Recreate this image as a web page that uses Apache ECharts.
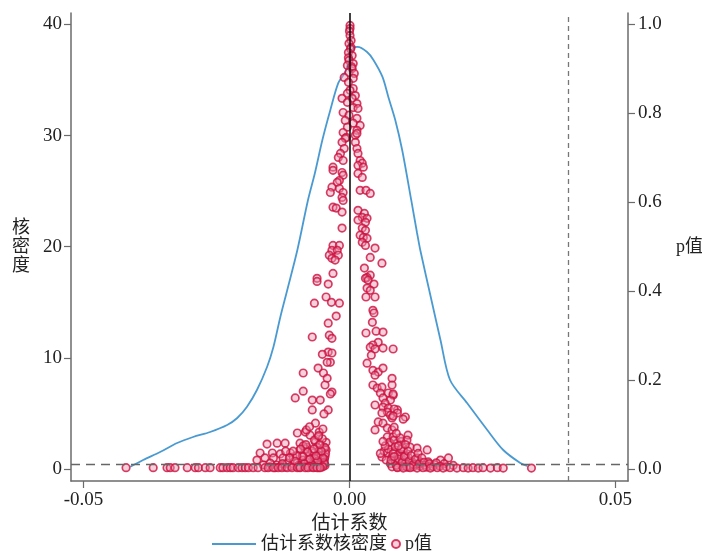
<!DOCTYPE html>
<html><head><meta charset="utf-8">
<script src="https://cdn.jsdelivr.net/npm/echarts@6/dist/echarts.min.js"></script>
<style>html,body{margin:0;padding:0;background:#fff}#c{width:702px;height:551px}</style>
</head><body><div id="c"></div>
<script>
// ---- data ----
const xTicks = [-0.05, 0, 0.05];
const densityTicks = [0, 10, 20, 30, 40];
const pTicks = [0, 0.2, 0.4, 0.6, 0.8, 1.0];
const refLinesX = [0, 0.0412];   // solid line at 0, dashed line at right
const refLineP = 0.01;           // horizontal dashed p threshold

// kernel density of estimated coefficients [coef, density]
const densityCurve = [
[-0.0412,0.2],[-0.0388,0.81],[-0.0356,1.53],[-0.0324,2.34],[-0.0294,2.88],[-0.0262,3.33],
[-0.0230,3.96],[-0.0211,4.59],[-0.0193,5.58],[-0.0174,7.11],[-0.0155,9.18],[-0.0143,10.98],
[-0.0130,13.68],[-0.0117,16.11],[-0.0098,19.71],[-0.0078,24.21],[-0.0065,26.64],[-0.0051,29.61],
[-0.0036,32.31],[-0.0021,34.74],[-0.0008,35.73],[0.0007,37.89],[0.0015,37.98],[0.0033,37.53],
[0.0045,36.81],[0.0062,35.28],[0.0073,33.48],[0.0086,31.41],[0.0099,28.71],[0.0116,24.21],
[0.0127,21.24],[0.0133,19.71],[0.0154,15.21],[0.0171,11.61],[0.0189,8.01],[0.0221,5.94],
[0.0259,3.51],[0.0289,1.71],[0.0321,0.54],[0.0334,0.27]
];

// p values of estimates [coef, p]
const pTop = [
[0.0001,0.998],[0.0001,0.991],[0.0000,0.985],[0.0001,0.975],[0.0003,0.964],[-0.0001,0.957],[0.0003,0.948],
[0.0002,0.945],[-0.0002,0.937],[0.0005,0.930],[-0.0002,0.925],[-0.0001,0.919],[0.0007,0.912],[-0.0004,0.908],
[0.0004,0.905],[0.0005,0.901],[-0.0001,0.892],[0.0009,0.890],[-0.0010,0.881],[0.0007,0.879],[-0.0002,0.870],
[0.0007,0.856],[0.0001,0.852],[-0.0004,0.845],[0.0011,0.840],[0.0005,0.834],[-0.0014,0.834],[-0.0004,0.825],
[0.0014,0.822],[0.0007,0.813],[0.0016,0.811],[-0.0012,0.802],[-0.0001,0.796],[0.0014,0.789],[-0.0008,0.784],
[0.0007,0.778],[0.0020,0.773],[-0.0004,0.769],[-0.0012,0.757],[0.0014,0.762],[-0.0006,0.746],[0.0011,0.751]
];
const pMidLeft = [
[-0.0008,0.744],[-0.0014,0.735],[-0.0010,0.721],[-0.0017,0.710],[-0.0021,0.701],[-0.0012,0.694],[-0.0031,0.679],
[-0.0031,0.672],[-0.0014,0.667],[-0.0012,0.661],[-0.0019,0.649],[-0.0023,0.645],[-0.0033,0.634],[-0.0019,0.631],
[-0.0036,0.622],[-0.0012,0.622],[-0.0014,0.611],[-0.0012,0.604],[-0.0031,0.589],[-0.0025,0.587],[-0.0014,0.578],
[-0.0014,0.542],[-0.0031,0.503],[-0.0019,0.503],[-0.0033,0.492],[-0.0023,0.492],[-0.0038,0.481],[-0.0021,0.481],
[-0.0033,0.474],[-0.0027,0.470],[-0.0031,0.440],[-0.0061,0.429],
[-0.0061,0.422],[-0.0040,0.416],[-0.0044,0.387],[-0.0034,0.375],[-0.0019,0.373],[-0.0066,0.373],[-0.0025,0.344],
[-0.0040,0.328],[-0.0038,0.301],[-0.0033,0.294],[-0.0070,0.297],[-0.0040,0.263],[-0.0033,0.261],[-0.0051,0.258],
[-0.0036,0.240],[-0.0042,0.240],[-0.0059,0.227],[-0.0049,0.216],[-0.0042,0.204],[-0.0087,0.216],[-0.0046,0.189],
[-0.0033,0.173],[-0.0036,0.169],[-0.0087,0.175],[-0.0102,0.160],[-0.0070,0.155],[-0.0055,0.155],[-0.0070,0.133],
[-0.0040,0.133],[-0.0048,0.124],[-0.0064,0.103],[-0.0083,0.083],[-0.0057,0.083],[-0.0098,0.081],[-0.0074,0.076],
[-0.0059,0.072],[-0.0081,0.088]
];
const pMidRight = [
[0.0014,0.755],[0.0011,0.735],[0.0014,0.721],[0.0016,0.710],[0.0020,0.694],[0.0024,0.688],[0.0016,0.683],
[0.0026,0.679],[0.0016,0.665],[0.0024,0.656],[0.0020,0.627],[0.0031,0.627],[0.0039,0.620],[0.0016,0.582],
[0.0028,0.575],[0.0024,0.566],[0.0033,0.564],[0.0016,0.560],[0.0030,0.555],[0.0024,0.542],[0.0030,0.537],
[0.0020,0.526],[0.0026,0.521],[0.0033,0.519],[0.0024,0.510],[0.0030,0.503],[0.0048,0.497],[0.0039,0.476],
[0.0061,0.463],[0.0028,0.452],[0.0039,0.436],[0.0033,0.431],
[0.0030,0.429],[0.0035,0.425],[0.0046,0.416],[0.0033,0.407],[0.0039,0.402],[0.0031,0.387],[0.0048,0.387],
[0.0044,0.357],[0.0046,0.351],[0.0043,0.330],[0.0031,0.306],[0.0050,0.310],[0.0063,0.308],[0.0054,0.285],
[0.0044,0.279],[0.0039,0.274],[0.0048,0.270],[0.0063,0.272],[0.0082,0.270],[0.0041,0.256],
[0.0033,0.238],[0.0044,0.222],[0.0054,0.218],[0.0063,0.227],[0.0048,0.211],[0.0080,0.204],[0.0080,0.189],
[0.0044,0.189],[0.0052,0.182],[0.0061,0.184],[0.0058,0.171],[0.0073,0.171],[0.0082,0.166],[0.0063,0.160],
[0.0077,0.155],[0.0048,0.144],[0.0067,0.148],[0.0063,0.139],[0.0073,0.137],[0.0071,0.128],[0.0090,0.133],
[0.0061,0.126],[0.0077,0.121],[0.0080,0.115],[0.0105,0.117],[0.0101,0.112],[0.0054,0.106],[0.0063,0.103],
[0.0048,0.088],[0.0071,0.092],[0.0080,0.088],[0.0071,0.072],[0.0082,0.072],[0.0110,0.076],[0.0108,0.065],
[0.0082,0.169],[0.0084,0.135],[0.0090,0.126],[0.0084,0.094],[0.0082,0.119]
];
const pLowLeft = [
[-0.0155,0.056],[-0.0136,0.058],[-0.0121,0.058],[-0.0093,0.058],[-0.0064,0.061],[-0.0080,0.049],[-0.0061,0.049],
[-0.0048,0.049],[-0.0044,0.043],[-0.0168,0.036],[-0.0145,0.036],[-0.0130,0.034],[-0.0111,0.036],[-0.0093,0.043],
[-0.0068,0.036],[-0.0059,0.031],[-0.0174,0.020],[-0.0159,0.025],[-0.0143,0.025],[-0.0125,0.025],[-0.0106,0.027],
[-0.0089,0.031],[-0.0074,0.031],[-0.0049,0.020],[-0.0162,0.009],[-0.0149,0.013],[-0.0136,0.009],[-0.0117,0.013],
[-0.0098,0.016],[-0.0087,0.020],[-0.0074,0.013],[-0.0061,0.013],[-0.0051,0.016],
[-0.0083,0.045],[-0.0070,0.040],[-0.0057,0.042],[-0.0053,0.030],[-0.0046,0.028],[-0.0045,0.035],[-0.0047,0.022],
[-0.0066,0.024],[-0.0078,0.020],[-0.0055,0.010],[-0.0046,0.008],[-0.0048,0.015],[-0.0052,0.006],[-0.0064,0.006],
[-0.0072,0.004],[-0.0089,0.007],[-0.0100,0.005],[-0.0110,0.006],[-0.0121,0.004],[-0.0130,0.006],[-0.0140,0.003],
[-0.0150,0.005],[-0.0087,0.052],[-0.0044,0.060],[-0.0046,0.048],[-0.0051,0.068],[-0.0066,0.065],
[-0.0047,0.012],[-0.0050,0.025],[-0.0053,0.040],[-0.0056,0.055],[-0.0060,0.018],[-0.0063,0.030],[-0.0067,0.045],
[-0.0071,0.010],[-0.0075,0.022],[-0.0079,0.038],[-0.0082,0.055],[-0.0085,0.012],[-0.0088,0.028],[-0.0092,0.045],
[-0.0096,0.008],[-0.0099,0.030],[-0.0103,0.018],[-0.0106,0.040],[-0.0113,0.025],[-0.0120,0.040],[-0.0126,0.012],
[-0.0050,0.005],[-0.0058,0.003],[-0.0066,0.004],[-0.0076,0.006],[-0.0093,0.004],[-0.0058,0.075],[-0.0050,0.090],
[-0.0075,0.095],
[-0.0420,0.003],[-0.0369,0.003],[-0.0343,0.003],[-0.0337,0.003],[-0.0328,0.003],[-0.0305,0.003],[-0.0290,0.003],
[-0.0284,0.003],[-0.0271,0.003],[-0.0262,0.003],[-0.0243,0.003],[-0.0238,0.003],[-0.0230,0.003],[-0.0224,0.003],
[-0.0219,0.003],[-0.0209,0.003],[-0.0202,0.003],[-0.0196,0.003],[-0.0190,0.003],[-0.0181,0.003],[-0.0172,0.003],
[-0.0159,0.003],[-0.0153,0.003],[-0.0143,0.003],[-0.0134,0.003],[-0.0127,0.003],[-0.0117,0.003],[-0.0108,0.003],
[-0.0098,0.003],[-0.0093,0.003],[-0.0083,0.003],[-0.0078,0.003],[-0.0068,0.003],[-0.0061,0.003],[-0.0055,0.003]
];
const pLowRight = [
[0.0077,0.054],[0.0090,0.058],[0.0099,0.049],[0.0114,0.049],[0.0127,0.047],[0.0061,0.027],[0.0071,0.036],
[0.0146,0.043],[0.0080,0.027],[0.0095,0.031],[0.0110,0.027],[0.0127,0.025],[0.0171,0.020],[0.0186,0.025],
[0.0090,0.016],[0.0101,0.020],[0.0118,0.016],[0.0133,0.016],[0.0148,0.016],
[0.0065,0.040],[0.0073,0.045],[0.0086,0.038],[0.0092,0.033],[0.0101,0.040],[0.0105,0.030],[0.0069,0.020],
[0.0077,0.012],[0.0086,0.018],[0.0095,0.010],[0.0105,0.012],[0.0114,0.008],[0.0123,0.010],[0.0133,0.006],
[0.0142,0.009],[0.0152,0.007],[0.0080,0.005],[0.0090,0.004],[0.0099,0.006],[0.0110,0.004],[0.0120,0.005],
[0.0160,0.010],[0.0178,0.012],[0.0195,0.008],[0.0075,0.060],[0.0084,0.065],[0.0097,0.062],[0.0067,0.052],
[0.0058,0.035],[0.0063,0.062],
[0.0078,0.020],[0.0082,0.035],[0.0086,0.050],[0.0088,0.008],[0.0093,0.022],[0.0097,0.045],[0.0099,0.015],
[0.0103,0.028],[0.0107,0.005],[0.0110,0.040],[0.0112,0.018],[0.0116,0.030],[0.0120,0.010],[0.0124,0.022],
[0.0129,0.035],[0.0131,0.012],[0.0136,0.025],[0.0140,0.015],[0.0145,0.004],[0.0150,0.012],[0.0157,0.005],
[0.0163,0.014],[0.0170,0.006],[0.0182,0.005],[0.0084,0.028],[0.0092,0.052],[0.0105,0.055],[0.0095,0.070],
[0.0088,0.080],
[0.0090,0.003],[0.0101,0.002],[0.0114,0.003],[0.0127,0.002],[0.0138,0.003],[0.0152,0.002],[0.0165,0.003],
[0.0176,0.002],[0.0189,0.003],[0.0202,0.002],[0.0214,0.003],[0.0223,0.002],[0.0232,0.003],[0.0242,0.002],
[0.0251,0.003],[0.0265,0.002],[0.0278,0.003],[0.0289,0.002],[0.0342,0.002]
];
const pValues = [].concat(pTop, pMidLeft, pMidRight, pLowLeft, pLowRight);

// ---- chart ----
const FONT = '"Liberation Serif", "Noto Sans CJK SC", serif';
const axisGray = '#6b6b6b';
const chart = echarts.init(document.getElementById('c'), null, {renderer: 'canvas'});
chart.setOption({
  backgroundColor: '#ffffff',
  animation: false,
  textStyle: {fontFamily: FONT},
  grid: {left: 71, right: 74, top: 13, bottom: 70, containLabel: false, outerBoundsMode: 'none'},
  legend: [
    {data: [{name: '估计系数核密度', icon: 'rect'}], left: 212, top: 535, padding: 0,
     itemWidth: 44, itemHeight: 2, itemGap: 4,
     textStyle: {fontFamily: FONT, fontSize: 18, color: '#222'}},
    {data: ['p值'], left: 391, top: 535, padding: 0, itemWidth: 8, itemHeight: 8, itemGap: 4,
     textStyle: {fontFamily: FONT, fontSize: 18, color: '#222'}}
  ],
  xAxis: {
    type: 'value', min: -0.05235, max: 0.05235,
    name: '估计系数', nameLocation: 'middle', nameGap: 26,
    nameTextStyle: {fontFamily: FONT, fontSize: 19, color: '#222'},
    axisLine: {show: true, onZero: false, lineStyle: {color: axisGray, width: 1.5}},
    axisTick: {show: true, length: 7, customValues: xTicks, lineStyle: {color: axisGray, width: 1.2}},
    axisLabel: {customValues: xTicks, margin: 10, fontSize: 19, color: '#222', fontFamily: FONT,
      formatter: v => v.toFixed(2)},
    splitLine: {show: false}
  },
  yAxis: [{
    type: 'value', min: -1.08, max: 41.035, position: 'left',
    name: '核\n密\n度', nameLocation: 'middle', nameGap: 41, nameRotate: 0,
    nameTextStyle: {fontFamily: FONT, fontSize: 18, color: '#222', lineHeight: 19},
    axisLine: {show: true, onZero: false, lineStyle: {color: axisGray, width: 1.5}},
    axisTick: {show: true, length: 7, customValues: densityTicks, lineStyle: {color: axisGray, width: 1.2}},
    axisLabel: {customValues: densityTicks, margin: 9, fontSize: 19, color: '#222', fontFamily: FONT},
    splitLine: {show: false}
  }, {
    type: 'value', min: -0.027, max: 1.02587, position: 'right',
    name: 'p值', nameLocation: 'middle', nameGap: 48, nameRotate: 0,
    nameTextStyle: {fontFamily: FONT, fontSize: 18, color: '#222'},
    axisLine: {show: true, onZero: false, lineStyle: {color: axisGray, width: 1.5}},
    axisTick: {show: true, length: 7, customValues: pTicks, lineStyle: {color: axisGray, width: 1.2}},
    axisLabel: {customValues: pTicks, margin: 10, fontSize: 19, color: '#222', fontFamily: FONT,
      formatter: v => v.toFixed(1)},
    splitLine: {show: false}
  }],
  series: [{
    name: '估计系数核密度', type: 'line', yAxisIndex: 0, data: densityCurve,
    symbol: 'none', smooth: 0.3, lineStyle: {color: '#4a9ad2', width: 1.8}, itemStyle: {color: '#4a9ad2'}, z: 2
  }, {
    name: 'p值', type: 'scatter', yAxisIndex: 1, data: pValues,
    symbol: 'circle', symbolSize: 7.5,
    itemStyle: {color: 'rgba(235,150,175,0.55)', borderColor: '#cc0f3f', borderWidth: 1.7}, z: 3,
    markLine: {
      silent: true, symbol: 'none', label: {show: false}, animation: false, precision: 5,
      data: [
        {xAxis: refLinesX[0], lineStyle: {color: '#111', width: 1.6, type: 'solid'}},
        {xAxis: refLinesX[1], lineStyle: {color: '#777', width: 1.3, type: [5, 4]}},
        {yAxis: refLineP, lineStyle: {color: '#666', width: 1.3, type: [9, 6]}}
      ]
    }
  }]
});
</script></body></html>
